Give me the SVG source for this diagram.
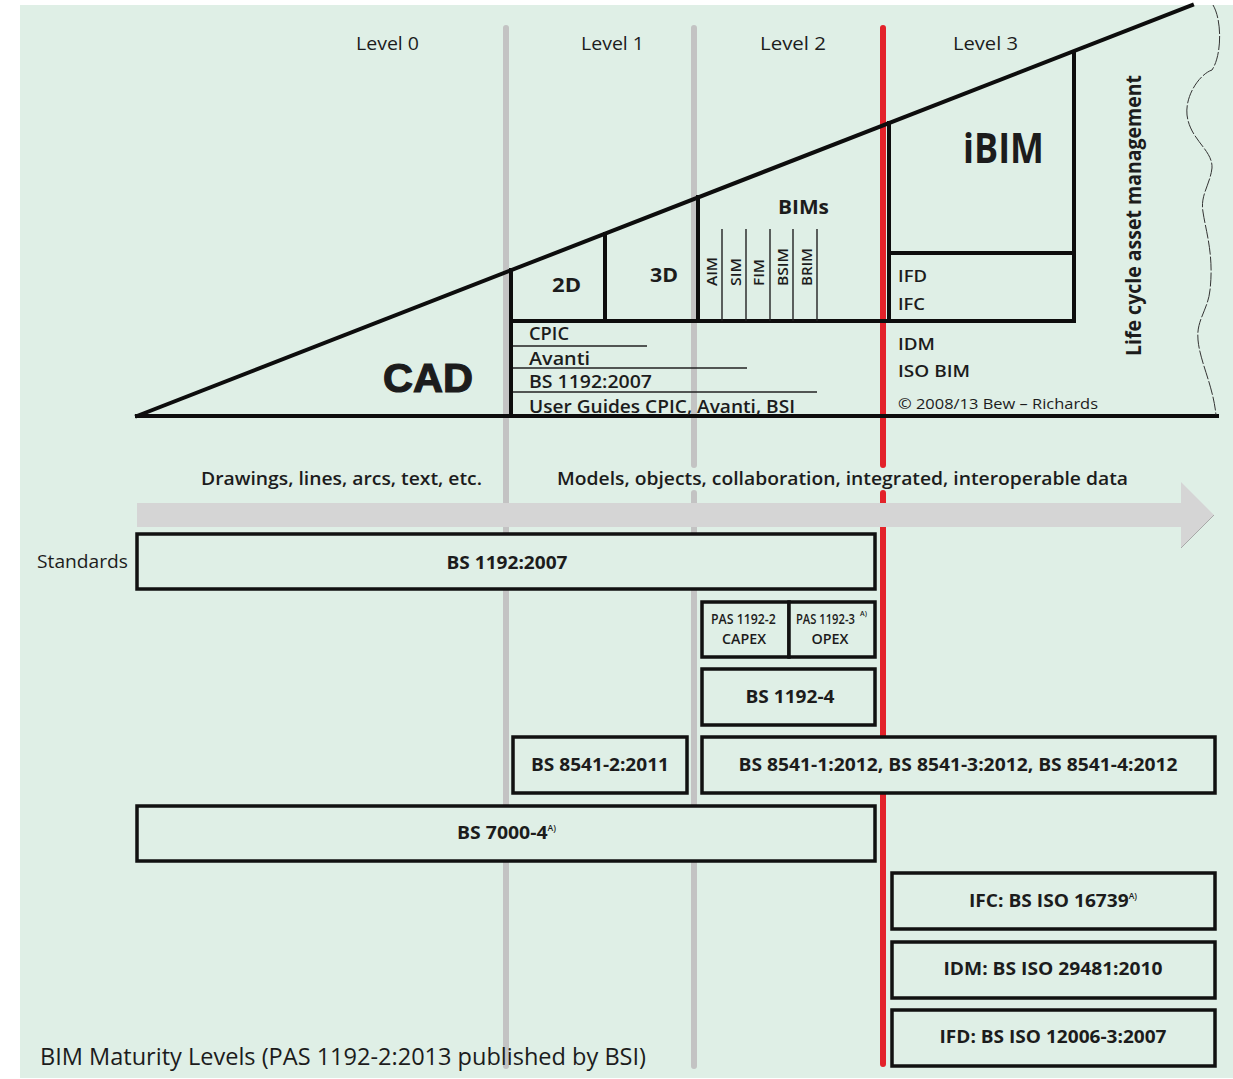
<svg xmlns="http://www.w3.org/2000/svg" width="1233" height="1079" viewBox="0 0 1233 1079">
<style>
.t{font-family:"Open Sans","Liberation Sans",sans-serif;fill:#1c1c1c}
.b{font-weight:700}
.sb{font-weight:600}
.box{fill:#dfefe6;stroke:#111;stroke-width:3.5}
.thick{stroke:#0d0d0d;stroke-width:4;fill:none;stroke-linecap:square}
.thin{stroke:#222;stroke-width:1.4;fill:none}
.grey{stroke:#c3c3c3;stroke-width:6;stroke-linecap:round;fill:none}
.red{stroke:#e3222a;stroke-width:6;stroke-linecap:round;fill:none}
.sup{font-size:8px;font-weight:600}
</style>
<rect x="0" y="0" width="1233" height="1079" fill="#ffffff"/>
<rect x="20" y="5" width="1213" height="1073" fill="#dfefe6"/>

<g id="level-lines">
  <path class="grey" d="M506,28 V1066"/>
  <path class="grey" d="M694,28 V465 M694,493 V1066"/>
  <path class="red" d="M883,28 V465 M883,493 V1064"/>
</g>

<g id="level-labels">
  <text class="t" x="356" y="50" font-size="18" textLength="63" lengthAdjust="spacingAndGlyphs">Level 0</text>
  <text class="t" x="581" y="50" font-size="18" textLength="63" lengthAdjust="spacingAndGlyphs">Level  1</text>
  <text class="t" x="760" y="50" font-size="18" textLength="66" lengthAdjust="spacingAndGlyphs">Level  2</text>
  <text class="t" x="953" y="50" font-size="18" textLength="65" lengthAdjust="spacingAndGlyphs">Level  3</text>
</g>

<g id="maturity-triangle">
  <line class="thick" x1="137" y1="416" x2="1192" y2="5" stroke-linecap="round"/>
  <line class="thick" x1="137" y1="416" x2="1217" y2="416" stroke-linecap="round"/>
  <line class="thick" x1="511" y1="270" x2="511" y2="416"/>
  <line class="thick" x1="511" y1="321" x2="1074" y2="321"/>
  <line class="thick" x1="605" y1="234" x2="605" y2="321"/>
  <line class="thick" x1="698" y1="197" x2="698" y2="321"/>
  <line class="thick" x1="889" y1="123" x2="889" y2="321"/>
  <line class="thick" x1="1074" y1="52" x2="1074" y2="321"/>
  <line class="thick" x1="889" y1="253" x2="1074" y2="253"/>
  <g class="thin">
    <line x1="722" y1="229" x2="722" y2="321"/>
    <line x1="746" y1="229" x2="746" y2="321"/>
    <line x1="770" y1="229" x2="770" y2="321"/>
    <line x1="793" y1="229" x2="793" y2="321"/>
    <line x1="817" y1="229" x2="817" y2="321"/>
    <line x1="513" y1="346" x2="647" y2="346"/>
    <line x1="513" y1="368" x2="747" y2="368"/>
    <line x1="513" y1="392" x2="817" y2="392"/>
  </g>
  <path d="M1213,5 C1222,20 1222,55 1212,70 C1200,74 1185,95 1187,115 C1190,140 1213,150 1212,168 C1210,185 1200,195 1203,212 C1206,232 1214,255 1210,290 C1208,310 1196,320 1198,340 C1200,362 1213,385 1216,415" fill="none" stroke="#333" stroke-width="1" stroke-dasharray="14 2"/>
</g>

<g id="triangle-labels">
  <text class="t" x="383" y="392" font-size="40" textLength="90" lengthAdjust="spacingAndGlyphs" style="font-family:'Liberation Sans',Arial,sans-serif;font-weight:900;stroke:#1c1c1c;stroke-width:1.2">CAD</text>
  <text class="t b" x="552" y="292" font-size="20" textLength="29" lengthAdjust="spacingAndGlyphs">2D</text>
  <text class="t b" x="650" y="282" font-size="20" textLength="28" lengthAdjust="spacingAndGlyphs">3D</text>
  <text class="t b" x="778" y="214" font-size="20" textLength="51" lengthAdjust="spacingAndGlyphs">BIMs</text>
  <text class="t sb" font-size="15" transform="translate(717,286) rotate(-90)" textLength="29" lengthAdjust="spacingAndGlyphs">AIM</text>
  <text class="t sb" font-size="15" transform="translate(741,286) rotate(-90)" textLength="28" lengthAdjust="spacingAndGlyphs">SIM</text>
  <text class="t sb" font-size="15" transform="translate(764,286) rotate(-90)" textLength="27" lengthAdjust="spacingAndGlyphs">FIM</text>
  <text class="t sb" font-size="15" transform="translate(788,286) rotate(-90)" textLength="38" lengthAdjust="spacingAndGlyphs">BSIM</text>
  <text class="t sb" font-size="15" transform="translate(812,286) rotate(-90)" textLength="38" lengthAdjust="spacingAndGlyphs">BRIM</text>
  <text class="t sb" x="529" y="340" font-size="18" textLength="40" lengthAdjust="spacingAndGlyphs">CPIC</text>
  <text class="t sb" x="529" y="365" font-size="18" textLength="61" lengthAdjust="spacingAndGlyphs">Avanti</text>
  <text class="t sb" x="529" y="388" font-size="18" textLength="123" lengthAdjust="spacingAndGlyphs">BS 1192:2007</text>
  <text class="t sb" x="529" y="413" font-size="18" textLength="266" lengthAdjust="spacingAndGlyphs">User Guides CPIC, Avanti, BSI</text>
  <text class="t b" x="963" y="163" font-size="42" textLength="81" lengthAdjust="spacingAndGlyphs">iBIM</text>
  <text class="t sb" x="898" y="282" font-size="17" textLength="29" lengthAdjust="spacingAndGlyphs">IFD</text>
  <text class="t sb" x="898" y="310" font-size="17" textLength="27" lengthAdjust="spacingAndGlyphs">IFC</text>
  <text class="t sb" x="898" y="350" font-size="17" textLength="37" lengthAdjust="spacingAndGlyphs">IDM</text>
  <text class="t sb" x="898" y="377" font-size="17" textLength="72" lengthAdjust="spacingAndGlyphs">ISO BIM</text>
  <text class="t" x="898" y="409" font-size="15" textLength="200" lengthAdjust="spacingAndGlyphs">©  2008/13 Bew – Richards</text>
  <text class="t b" font-size="21" transform="translate(1141,356) rotate(-90)" textLength="281" lengthAdjust="spacingAndGlyphs">Life cycle asset management</text>
</g>

<g id="progress-arrow">
  <polygon points="137,503 1181,503 1181,482 1214,515 1181,548 1181,527 137,527" fill="#d5d5d5"/>
  <polyline points="1181,548 1214,515" fill="none" stroke="#9a9a9a" stroke-width="0.8"/>
  <text class="t sb" x="201" y="485" font-size="18" textLength="281" lengthAdjust="spacingAndGlyphs">Drawings, lines, arcs, text, etc.</text>
  <text class="t sb" x="557" y="485" font-size="18" textLength="571" lengthAdjust="spacingAndGlyphs">Models, objects, collaboration, integrated, interoperable data</text>
</g>

<text class="t" x="37" y="568" font-size="19" textLength="91" lengthAdjust="spacingAndGlyphs">Standards</text>

<g id="node-bs1192">
  <rect class="box" x="137" y="534" width="738" height="55"/>
  <text class="t b" x="507" y="569" font-size="18" text-anchor="middle" textLength="121" lengthAdjust="spacingAndGlyphs">BS 1192:2007</text>
</g>
<g id="node-pas1192-2">
  <rect class="box" x="702" y="602" width="87" height="55"/>
  <text class="t sb" font-size="14" transform="translate(711,624) scale(0.88,1)">PAS 1192-2</text>
  <text class="t sb" x="744" y="644" font-size="14" text-anchor="middle" textLength="44" lengthAdjust="spacingAndGlyphs">CAPEX</text>
</g>
<g id="node-pas1192-3">
  <rect class="box" x="789" y="602" width="86" height="55"/>
  <text class="t sb" font-size="14" transform="translate(796,624) scale(0.8,1)">PAS 1192-3</text>
  <text class="t sb" x="860" y="616" font-size="7">A)</text>
  <text class="t sb" x="830" y="644" font-size="14" text-anchor="middle" textLength="37" lengthAdjust="spacingAndGlyphs">OPEX</text>
</g>
<g id="node-bs1192-4">
  <rect class="box" x="702" y="669" width="173" height="56"/>
  <text class="t b" x="790" y="703" font-size="18" text-anchor="middle" textLength="89" lengthAdjust="spacingAndGlyphs">BS 1192-4</text>
</g>
<g id="node-bs8541-2">
  <rect class="box" x="513" y="737" width="174" height="56"/>
  <text class="t b" x="600" y="771" font-size="18" text-anchor="middle" textLength="138" lengthAdjust="spacingAndGlyphs">BS 8541-2:2011</text>
</g>
<g id="node-bs8541-1-3-4">
  <rect class="box" x="702" y="737" width="513" height="56"/>
  <text class="t b" x="958" y="771" font-size="18" text-anchor="middle" textLength="439" lengthAdjust="spacingAndGlyphs">BS 8541-1:2012, BS 8541-3:2012, BS 8541-4:2012</text>
</g>
<g id="node-bs7000-4">
  <rect class="box" x="137" y="806" width="738" height="55"/>
  <text class="t b" x="457" y="839" font-size="18" textLength="99" lengthAdjust="spacingAndGlyphs">BS 7000-4<tspan class="sup" dy="-8">A)</tspan></text>
</g>
<g id="node-ifc">
  <rect class="box" x="892" y="873" width="323" height="56"/>
  <text class="t b" x="969" y="907" font-size="18" textLength="168" lengthAdjust="spacingAndGlyphs">IFC: BS ISO 16739<tspan class="sup" dy="-8">A)</tspan></text>
</g>
<g id="node-idm">
  <rect class="box" x="892" y="942" width="323" height="56"/>
  <text class="t b" x="1053" y="975" font-size="18" text-anchor="middle" textLength="219" lengthAdjust="spacingAndGlyphs">IDM: BS ISO 29481:2010</text>
</g>
<g id="node-ifd">
  <rect class="box" x="892" y="1010" width="323" height="56"/>
  <text class="t b" x="1053" y="1043" font-size="18" text-anchor="middle" textLength="227" lengthAdjust="spacingAndGlyphs">IFD: BS ISO 12006-3:2007</text>
</g>

<g id="connectors"></g>

<text class="t" x="40" y="1065" font-size="23" textLength="606" lengthAdjust="spacingAndGlyphs">BIM Maturity Levels (PAS 1192-2:2013 published by BSI)</text>
</svg>
